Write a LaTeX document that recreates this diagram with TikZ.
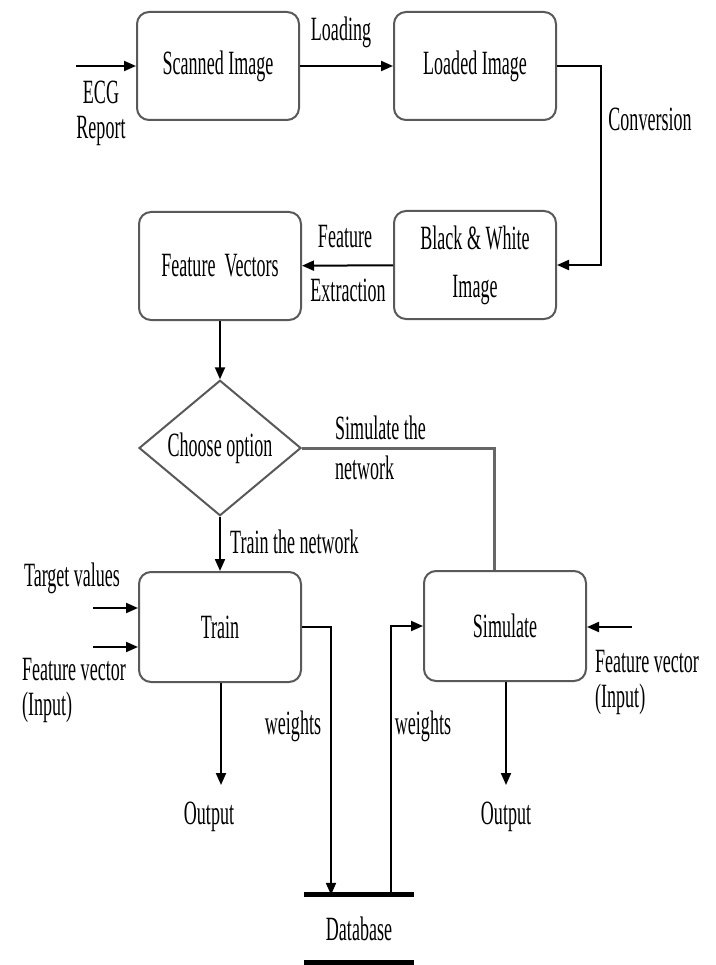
\documentclass[tikz,border=0pt]{standalone}
\usepackage{fontspec}
\setmainfont{Liberation Serif}[FakeStretch=0.53]
\usepackage{tikz}
\usetikzlibrary{shapes.geometric, arrows.meta, positioning, calc}

\begin{document}
\begin{tikzpicture}[x=1pt, y=-1pt,
    every node/.style={font=\fontsize{34}{35}\selectfont, inner sep=2pt},
    box/.style={draw=black!65, line width=2pt, rounded corners=12pt, minimum width=162pt, minimum height=108pt, align=center},
    choice/.style={diamond, draw=black!65, line width=2pt, minimum width=162pt, minimum height=135pt, inner sep=0pt},
    arr/.style={line width=2pt, -{Triangle[length=12pt,width=10pt]}},
    gline/.style={draw=black!60, line width=3pt},
    dbline/.style={line width=5pt}]
\useasboundingbox (0,0) rectangle (715,965);
% Processing boxes
\node[box] (scan) at (218,66) {Scanned Image};
\node[box] (load) at (475,66) {Loaded Image};
\node[box] (bw) at (475,265) {Black \& White\\[13pt]Image};
\node[box] (fv) at (220,266) {Feature\ \ Vectors};
\node[choice] (choose) at (220,448) {Choose option};
\node[box, minimum height=110pt] (train) at (220,627) {Train};
\node[box, minimum height=110pt] (sim) at (505,626) {Simulate};
\node[minimum width=110pt, minimum height=67pt] (db) at (359,928.5) {Database};
% Labels
\node (ecglbl) at (101,113) [align=center] {ECG\\Report};
\node (loadlbl) at (341,32) {Loading};
\node (convlbl) at (650,119) {Conversion};
\node (featlbl) at (345,237) {Feature};
\node (extlbl) at (348,290) {Extraction};
\node[anchor=west, align=left] (simlbl) at (333,448) {Simulate the\\[5pt]network};
\node[anchor=west] (trainlbl) at (228,542) {Train the network};
\node (targlbl) at (72,578) {Target values};
\node[anchor=west, align=left] (inlbl) at (20,690) {Feature vector\\(Input)};
\node[anchor=west, align=left] (simin) at (593,682) {Feature vector\\(Input)};
\node (wlbl1) at (293,726) {weights};
\node (wlbl2) at (423,726) {weights};
\node (out1) at (209,817) {Output};
\node (out2) at (506,817) {Output};
% Connector points
\coordinate (ecg) at (76,66);
\coordinate (cv) at (601,66);
\coordinate (sv) at (494,448);
\coordinate (t1) at (93,608);
\coordinate (t2) at (93,647);
\coordinate (fin) at (632,627);
\coordinate (wl) at (331,626);
\coordinate (wr) at (391,626);
\coordinate (o1) at (221,785);
\coordinate (o2) at (506,785);
% Connectors
\draw[arr] (ecg) -- (scan);
\draw[arr] (scan) -- (load);
\draw[arr] (load.east) -- (cv) |- (bw.east);
\draw[arr] (bw) -- (fv);
\draw[arr] (fv.south) -- (choose.north);
\draw[arr] (choose.south) -- (train.north);
\draw[gline] (choose.east) -- (sv) -- (sv |- sim.north);
\draw[arr] (t1) -- (t1 -| train.west);
\draw[arr] (t2) -- (t2 -| train.west);
\draw[arr] (fin) -- (fin -| sim.east);
\draw[arr] (train.south -| o1) -- (o1);
\draw[arr] (sim.south -| o2) -- (o2);
\draw[arr] (train.east) -| (db.north -| wl);
\draw[arr] (db.north -| wr) |- (sim.west);
% Database edges
\draw[dbline] (db.north west) -- (db.north east);
\draw[dbline] (db.south west) -- (db.south east);
\end{tikzpicture}
\end{document}
